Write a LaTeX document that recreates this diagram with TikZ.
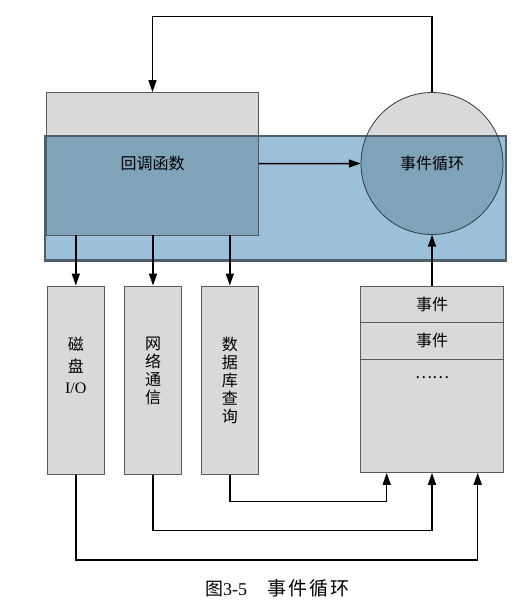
\documentclass[tikz,border=0pt]{standalone}
\usepackage{fontspec}
\setmainfont{Liberation Serif}
\newfontfamily\cjk{Noto Sans CJK SC}
\usetikzlibrary{arrows.meta}
\definecolor{boxgray}{HTML}{D9D9D9}
\definecolor{boxline}{HTML}{5A5A5A}
\definecolor{bandblue}{HTML}{9BC0D9}
\definecolor{overlapblue}{HTML}{7FA4BA}
\definecolor{bandline}{HTML}{4D5F6B}
\definecolor{circline}{HTML}{2E3B48}
\begin{document}
\begin{tikzpicture}[x=1pt,y=-1pt,
  graybox/.style={draw=boxline,fill=boxgray,line width=1pt,inner sep=0pt},
  arr/.style={line width=1.5pt,-{Triangle[length=12pt,width=8pt]}},
  lbl/.style={font=\cjk\fontsize{16}{18}\selectfont,align=center,inner sep=0pt},
  vlbl/.style={lbl,anchor=north}]
\useasboundingbox (0,0) rectangle (530,607);
% callback box and event loop circle (fills)
\node[fill=boxgray,inner sep=0pt,minimum width=211.6pt,minimum height=142.7pt] (cb) at (152.5,163.65) {};
\node[fill=boxgray,circle,inner sep=0pt,minimum size=142pt] (el) at (432,163.5) {};
% band
\node[fill=bandblue,inner sep=0pt,minimum width=461pt,minimum height=124.3pt] (band) at (275.5,198.15) {};
\begin{scope}
  \clip (band.north west) rectangle (band.south east);
  \fill[overlapblue] (cb.north west) rectangle (cb.south east);
  \fill[overlapblue] (el.center) circle[radius=71pt];
\end{scope}
\draw[bandline,line width=2.5pt] (band.north west) rectangle (band.south east);
\draw[boxline,line width=1pt] (cb.north west) rectangle (cb.south east);
\draw[circline,line width=0.8pt] (el.center) circle[radius=71pt];
\node[lbl] (cbt) at (cb.center) {回调函数};
\node[lbl] (elt) at (el.center) {事件循环};
% lower boxes
\node[graybox,minimum width=57.3pt,minimum height=188.3pt] (b1) at (75.8,380.15) {};
\node[graybox,minimum width=57.3pt,minimum height=188.3pt] (b2) at (153,380.15) {};
\node[graybox,minimum width=57.3pt,minimum height=188.3pt] (b3) at (229.8,380.15) {};
\node[vlbl,font=\cjk\fontsize{16}{21.5}\selectfont] (t1) at (75.8,337) {磁\\盘\\{\rmfamily I/O}};
\node[vlbl] (t2) at (153,337) {网\\络\\通\\信};
\node[vlbl] (t3) at (229.8,337) {数\\据\\库\\查\\询};
% event queue
\node[graybox,minimum width=142.6pt,minimum height=36.3pt] (e1) at (432,304.15) {};
\node[graybox,minimum width=142.6pt,minimum height=37pt] (e2) at (432,340.8) {};
\node[graybox,minimum width=142.6pt,minimum height=113pt] (e3) at (432,415.8) {};
\node[lbl] (e1t) at (e1.center) {事件};
\node[lbl] (e2t) at (e2.center) {事件};
\node[lbl] (e3t) at (432,378) {……};
% connectors
\coordinate (top) at (0,16.7);
\draw[arr] (el.north) -- (el.north |- top) -| (cb.north);
\draw[arr] (cb.east) -- (el.west);
\draw[arr] (b1.north |- cb.south) -- (b1.north);
\draw[arr] (b2.north |- cb.south) -- (b2.north);
\draw[arr] (b3.north |- cb.south) -- (b3.north);
\draw[arr] (e1.north) -- (el.south);
\coordinate (c3) at (386.7,501.7);
\coordinate (c2) at (432,530.7);
\coordinate (c1) at (477.7,560);
\draw[arr] (b3.south) |- (c3) -- (c3 |- e3.south);
\draw[arr] (b2.south) |- (c2) -- (c2 |- e3.south);
\draw[arr] (b1.south) |- (c1) -- (c1 |- e3.south);
% caption
\node[anchor=west,inner sep=0pt,font=\fontsize{18}{20}\selectfont] (cap) at (205,588) {{\cjk 图}3-5\hspace{20pt}{\cjk\fontsize{19}{20}\selectfont 事\hspace{2pt}件\hspace{2pt}循\hspace{2pt}环}};
\end{tikzpicture}
\end{document}
